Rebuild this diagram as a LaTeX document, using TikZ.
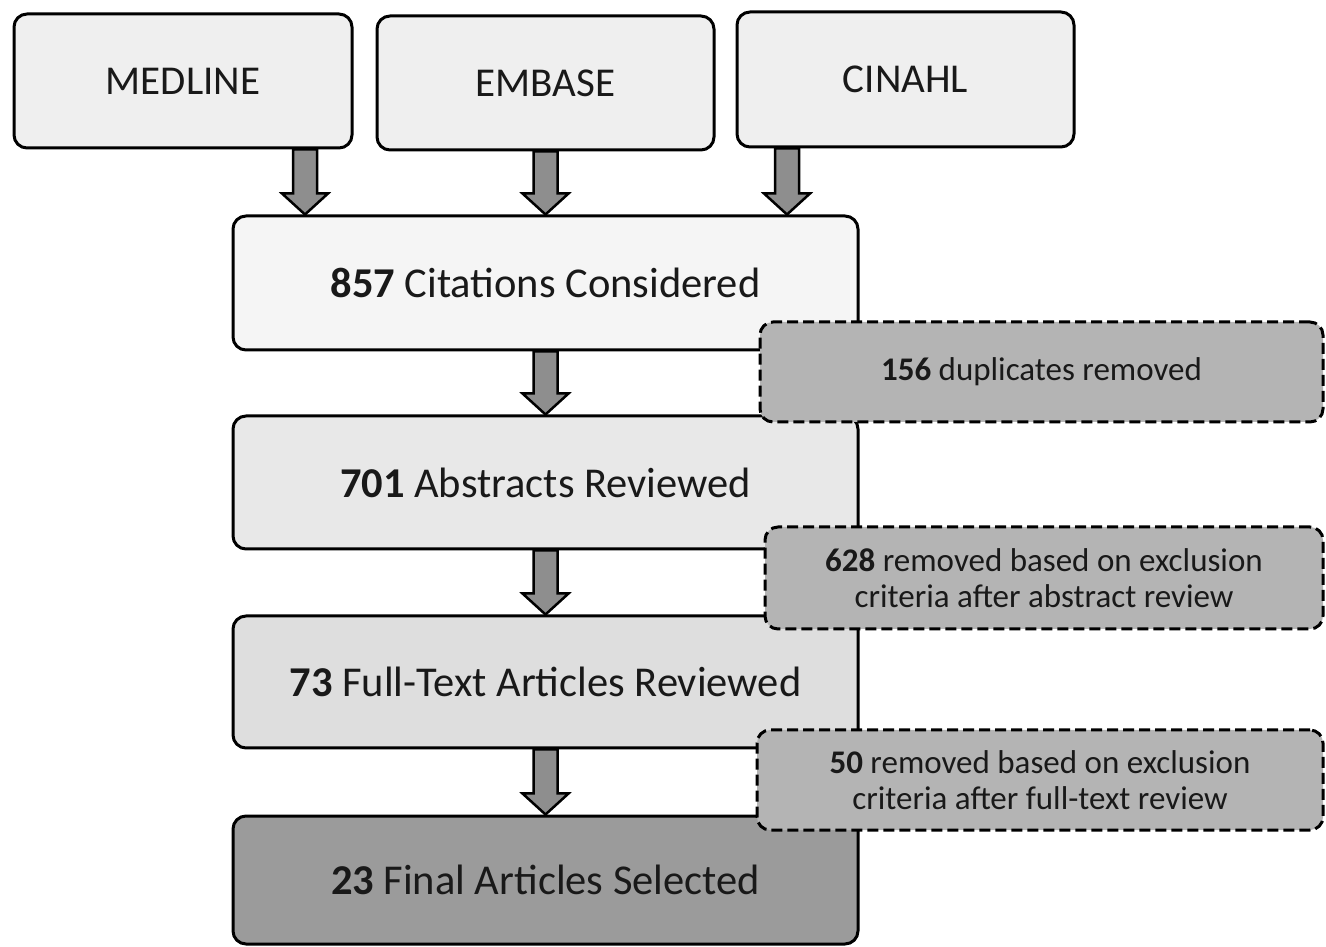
\documentclass[tikz,border=0pt]{standalone}
\usepackage{fontspec}
\setmainfont{Carlito}
\usetikzlibrary{calc}
\definecolor{srcfill}{HTML}{EFEFEF}
\definecolor{citfill}{HTML}{F5F5F5}
\definecolor{absfill}{HTML}{E8E8E8}
\definecolor{ftfill}{HTML}{DEDEDE}
\definecolor{finfill}{HTML}{9B9B9B}
\definecolor{remfill}{HTML}{B4B4B4}
\definecolor{arrfill}{HTML}{8E8E8E}
\newcommand{\lowtext}[2]{\raisebox{-#1}{#2}}
\tikzset{
  box/.style={draw=black, line width=3pt, rounded corners=13pt, inner sep=0pt, align=center, text=black!90},
  srcbox/.style={box, fill=srcfill, font=\fontsize{41}{48}\selectfont},
  mainbox/.style={box, minimum width=625pt, font=\fontsize{42.5}{50}\selectfont},
  rembox/.style={box, dashed, dash pattern=on 11pt off 5pt, fill=remfill, font=\fontsize{33}{36}\selectfont},
  blockarrow/.style={draw=black, line width=2.5pt, fill=arrfill, line join=miter,
    to path={let \p1=(\tikztostart), \p2=(\tikztotarget) in
      (\x1-12pt,\y1) -- (\x1+12pt,\y1) -- (\x1+12pt,\y2+21pt) -- (\x1+23pt,\y2+21pt)
      -- (\x1,\y2) -- (\x1-23pt,\y2+21pt) -- (\x1-12pt,\y2+21pt) -- cycle}}
}
\begin{document}
\begin{tikzpicture}[x=1pt,y=1pt]
\useasboundingbox (0,0) rectangle (1326,946);
% source boxes
\node[srcbox, minimum width=338pt, minimum height=134pt] (medline) at (183,865) {\lowtext{3pt}{MEDLINE}};
\node[srcbox, minimum width=337pt, minimum height=134pt] (embase) at (545.5,863) {\lowtext{3pt}{EMBASE}};
\node[srcbox, minimum width=337pt, minimum height=135pt] (cinahl) at (905.5,866.5) {\lowtext{2pt}{CINAHL}};
% main boxes
\node[mainbox, fill=citfill, minimum height=134pt] (cit) at (545.5,663) {\lowtext{3pt}{\textbf{857} Citations Considered}};
\node[mainbox, fill=absfill, minimum height=133pt] (abs) at (545.5,463.5) {\lowtext{3pt}{\textbf{701} Abstracts Reviewed}};
\node[mainbox, fill=ftfill, minimum height=132pt] (ft) at (545.5,264) {\lowtext{3pt}{\textbf{73} Full-Text Articles Reviewed}};
\node[mainbox, fill=finfill, minimum height=128pt] (fin) at (545.5,66) {\lowtext{3pt}{\textbf{23} Final Articles Selected}};
% arrow x positions
\coordinate (ax1) at (305,0);
\coordinate (ax2) at (545.5,0);
\coordinate (ax3) at (787,0);
% arrows
\draw[blockarrow] (medline.south -| ax1) to (cit.north -| ax1);
\draw[blockarrow] (embase.south -| ax2) to (cit.north -| ax2);
\draw[blockarrow] (cinahl.south -| ax3) to (cit.north -| ax3);
\draw[blockarrow] (cit.south) to (abs.north);
\draw[blockarrow] (abs.south) to (ft.north);
\draw[blockarrow] (ft.south) to (fin.north);
% removal boxes
\node[rembox, minimum width=563pt, minimum height=100pt] (r1) at (1041.5,574) {\lowtext{6pt}{\textbf{156} duplicates removed}};
\node[rembox, minimum width=558pt, minimum height=102pt] (r2) at (1044,368) {\textbf{628} removed based on exclusion\\criteria after abstract review};
\node[rembox, minimum width=566pt, minimum height=100pt] (r3) at (1040,166) {\textbf{50} removed based on exclusion\\criteria after full-text review};
\end{tikzpicture}
\end{document}
